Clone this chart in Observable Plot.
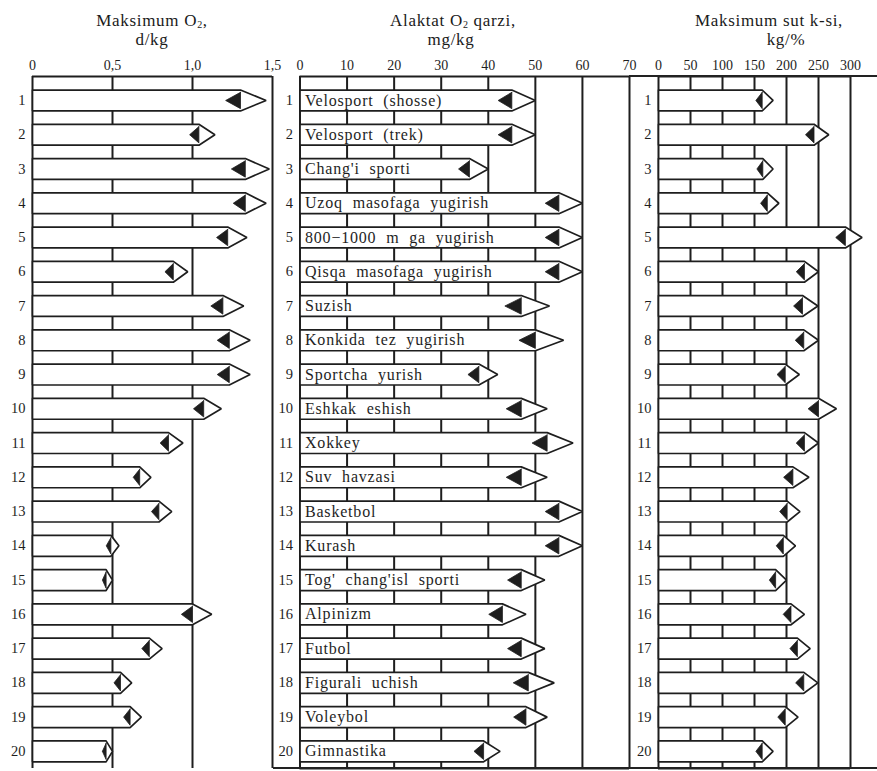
<!DOCTYPE html>
<html><head><meta charset="utf-8">
<script src="https://cdn.jsdelivr.net/npm/d3@7"></script>
<script src="https://cdn.jsdelivr.net/npm/@observablehq/plot@0.6"></script>
<style>
html,body{margin:0;padding:0;background:#fff;}
#chart{position:relative;width:877px;height:771px;overflow:hidden;font-family:"Liberation Serif","DejaVu Serif",serif;color:#1a1a1a;}
.panel{position:absolute;top:0;}
.title{position:absolute;white-space:nowrap;transform:translateX(-50%);font-size:17px;line-height:15px;letter-spacing:0.7px;}
.title sub{font-size:10px;vertical-align:-2px;line-height:0;}
.hline{position:absolute;height:2px;background:#222;}
</style></head>
<body><div id="chart"></div>
<script>
// ---- data ----
const rows = [1,2,3,4,5,6,7,8,9,10,11,12,13,14,15,16,17,18,19,20];
const sports = ["Velosport (shosse)","Velosport (trek)","Chang'i sporti","Uzoq masofaga yugirish","800\u22121000 m ga yugirish","Qisqa masofaga yugirish","Suzish","Konkida tez yugirish","Sportcha yurish","Eshkak eshish","Xokkey","Suv havzasi","Basketbol","Kurash","Tog' chang'isl sporti","Alpinizm","Futbol","Figurali uchish","Voleybol","Gimnastika"];
const o2Low  = [1.30,1.04,1.33,1.33,1.22,0.88,1.19,1.23,1.23,1.07,0.85,0.67,0.79,0.49,0.46,1.00,0.73,0.55,0.61,0.46];
const o2High = [1.46,1.14,1.48,1.46,1.34,0.97,1.32,1.36,1.36,1.18,0.94,0.74,0.87,0.54,0.50,1.12,0.81,0.62,0.68,0.50];
const debtLow  = [45,45,36,55,55,55,47,50,38,47,52.5,47,55,55,47,43,47,48.5,48,39];
const debtHigh = [50,50,40,60,60,60,53,56,42,52.5,58,52.5,60,60,52,48,52,54,52.5,42.5];
const lactLow  = [162,243,163,170,292,228,225,227,198,250,228,210,201,195,183,207,217,227,198,162];
const lactHigh = [179,266,179,188,318,250,249,250,220,278,250,235,221,214,200,228,237,249,218,179];
const o2Ticks = [0,0.5,1.0,1.5];
const debtTicks = [0,10,20,30,40,50,60,70];
const lactTicks = [0,50,100,150,200,250,300];
const titles = [["Maksimum O<sub>2</sub>,","d/kg"],["Alaktat O<sub>2</sub> qarzi,","mg/kg"],["Maksimum sut k-si,","kg/%"]];

// ---- drawing ----
const ink = "#1e1e1e";
const H = 0.305, DH = 0.78, DARK = 0.58;
const yDomain = [0.3, 20.5];
const chart = document.getElementById("chart");

function arrows(lo, hi) {
  const body = [], dark = [];
  rows.forEach((r, i) => {
    const a = lo[i], b = hi[i];
    [[0,r-H],[a,r-H],[b,r],[a,r+H],[0,r+H],[0,r-H]].forEach(([x,y]) => body.push({r,x,y}));
    const d = DARK*(b-a);
    [[a,r-H*DH],[a-d,r],[a,r+H*DH],[a,r-H*DH]].forEach(([x,y]) => dark.push({r,x,y}));
  });
  return {body, dark};
}

function panel({lo, hi, ticks, fmt, left, width, marginLeft, marginRight, bottom, labels}) {
  const {body, dark} = arrows(lo, hi);
  const marks = [
    Plot.ruleX(ticks, {stroke: ink, strokeWidth: 2}),
    Plot.ruleY([yDomain[0]], {stroke: ink, strokeWidth: 2}),
  ];
  if (bottom) marks.push(Plot.ruleY([yDomain[1]], {stroke: ink, strokeWidth: 2}));
  marks.push(
    Plot.line(body, {x: "x", y: "y", z: "r", fill: "white", stroke: ink, strokeWidth: 1.7, strokeLinejoin: "miter", curve: "linear"}),
    Plot.line(dark, {x: "x", y: "y", z: "r", fill: ink, stroke: ink, strokeWidth: 0.8, curve: "linear"}),
    Plot.axisX({anchor: "top", ticks, tickFormat: fmt, tickSize: 0, tickPadding: 7, fontSize: 14, fill: ink, label: null}),
    Plot.axisY({anchor: "left", ticks: rows, tickFormat: d => String(d), tickSize: 0, tickPadding: 7, fontSize: 14.5, fill: ink, label: null})
  );
  if (labels) marks.push(Plot.text(rows, {x: 0, y: d => d, text: (d, i) => labels[i], textAnchor: "start", dx: 5, dy: 0, fontSize: 16, fill: ink}));
  const svg = Plot.plot({
    width, height: 771, marginLeft, marginRight, marginTop: 76, marginBottom: 3,
    style: {background: "transparent", overflow: "visible", fontFamily: "'Liberation Serif', serif", color: ink},
    x: {domain: [ticks[0], ticks[ticks.length-1]], axis: null, label: null},
    y: {domain: yDomain, reverse: true, axis: null, label: null},
    marks
  });
  const wrap = document.createElement("div");
  wrap.className = "panel";
  wrap.style.left = left + "px";
  wrap.appendChild(svg);
  chart.appendChild(wrap);
  if (labels) {
    d3.select(svg).selectAll('g[aria-label="text"] text')
      .attr("letter-spacing", "0.8").attr("word-spacing", "5")
      .style("letter-spacing", "0.8px").style("word-spacing", "5px");
  }
  return svg;
}

panel({lo: o2Low, hi: o2High, ticks: o2Ticks, fmt: d => d === 0 ? "0" : d.toFixed(1).replace(".", ","), left: 0, width: 290, marginLeft: 32, marginRight: 18, bottom: false});
panel({lo: debtLow, hi: debtHigh, ticks: debtTicks, fmt: d => String(d), left: 270, width: 375, marginLeft: 29.5, marginRight: 16, bottom: true, labels: sports});
panel({lo: lactLow, hi: lactHigh, ticks: lactTicks, fmt: d => String(d), left: 632, width: 245, marginLeft: 26, marginRight: 27, bottom: true});

// titles
const titlePos = [[[152,13],[152,32]],[[453,13],[451,32]],[[769,13],[786,32]]];
titles.forEach((lines, p) => lines.forEach((t, k) => {
  const el = document.createElement("div");
  el.className = "title";
  el.innerHTML = t;
  el.style.left = titlePos[p][k][0] + "px";
  el.style.top = titlePos[p][k][1] + "px";
  chart.appendChild(el);
}));
// continuous frame lines shared by the right panels
const lines = [[629, 75, 248], [273, 767, 604]];
lines.forEach(([x, y, w]) => {
  const el = document.createElement("div");
  el.className = "hline";
  el.style.left = x + "px"; el.style.top = y + "px"; el.style.width = w + "px";
  chart.appendChild(el);
});
</script>
</body></html>
